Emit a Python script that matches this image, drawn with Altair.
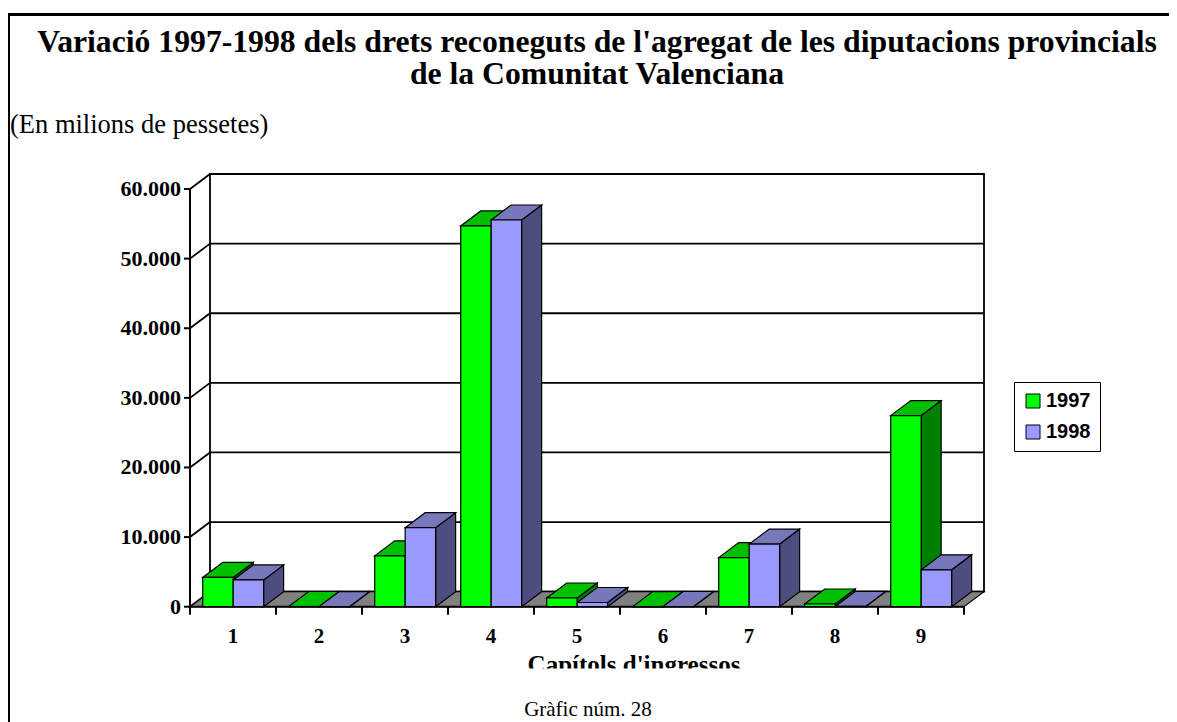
import altair as alt
import pandas as pd

# ---------------- data ----------------
categories = ["1", "2", "3", "4", "5", "6", "7", "8", "9"]
v1997 = [4200, 30, 7300, 54700, 1250, 20, 7050, 390, 27450]
v1998 = [3850, 20, 11350, 55550, 600, 30, 9000, 40, 5300]
series = ["1997", "1998"]
y_ticks = [0, 10000, 20000, 30000, 40000, 50000, 60000]
y_tick_labels = ["0", "10.000", "20.000", "30.000", "40.000", "50.000", "60.000"]

title_lines = ["Variació 1997-1998 dels drets reconeguts de l'agregat de les diputacions provincials",
               "de la Comunitat Valenciana"]
subtitle = "(En milions de pessetes)"
x_title = "Capítols d'ingressos"
caption = "Gràfic núm. 28"

# ---------------- layout ----------------
W, H = 1161, 714
CAT_PX = 86.0            # width of one category in px
AX_X = 182.0             # front y-axis position (chart px)
ZERO_Y = 598.7           # value 0 on the front plane (chart px)
PX_PER_VAL = 417.7 / 60000.0
DX = 20.0 / CAT_PX       # 3D depth offset, x (category units)
DY = 15.0 / PX_PER_VAL   # 3D depth offset, y (value units)
G0, SPLIT, P1 = 0.148, 0.502, 0.856   # bar offsets inside a category
YMAX = 60000
NCAT = len(categories)

xs = alt.Scale(domain=[-AX_X / CAT_PX, (W - AX_X) / CAT_PX], nice=False, zero=False)
ys = alt.Scale(domain=[-(H - ZERO_Y) / PX_PER_VAL, ZERO_Y / PX_PER_VAL], nice=False, zero=False)

GREEN = {"front": "#00FF00", "top": "#00C000", "side": "#008000"}
PURPLE = {"front": "#9999FF", "top": "#7777BB", "side": "#4D4D80"}
SERIF = "Liberation Serif"
SANS = "Liberation Sans"

# ---------------- derived tables ----------------
front_rows, top_rows, side_rows = [], [], []
for i, cat in enumerate(categories):
    for s, vals, a, b in (("1997", v1997, G0, SPLIT), ("1998", v1998, SPLIT, P1)):
        v = vals[i]
        x0, x1 = i + a, i + b
        fid = f"{s}-{cat}"
        front_rows.append({"year": s, "cat": cat, "x": x0, "x2": x1, "y": 0, "y2": v})
        for px, py, py2 in ((x0, v, v), (x0 + DX, v, v + DY), (x1, v, v + DY), (x1 + DX, v + DY, v + DY)):
            top_rows.append({"year": s, "id": fid, "x": px, "y": py, "y2": py2})
        for px, py, py2 in ((x1, 0, v), (x1 + DX, DY, v + DY)):
            side_rows.append({"year": s, "id": fid, "x": px, "y": py, "y2": py2})
front_df = pd.DataFrame(front_rows)
top_df = pd.DataFrame(top_rows)
side_df = pd.DataFrame(side_rows)

floor_df = pd.DataFrame({
    "id": ["floor"] * 4,
    "x": [0, DX, NCAT, NCAT + DX],
    "y": [0, 0, 0, DY],
    "y2": [0, DY, DY, DY],
})
ticks_df = pd.DataFrame({"t": y_ticks, "label": y_tick_labels})
ticks_df["tb"] = ticks_df["t"] + DY
ticks_df["xa"] = 0.0
ticks_df["xb"] = DX
ticks_df["xr"] = NCAT + DX
ticks_df["xt"] = -6.0 / CAT_PX
ticks_df["xl"] = -9.0 / CAT_PX
xcat_df = pd.DataFrame({"cat": categories, "xc": [i + 0.5 for i in range(NCAT)]})
xtick_df = pd.DataFrame({"xb": list(range(NCAT + 1))})
xtick_df["y0"] = 0.0
xtick_df["y1"] = -8.0 / PX_PER_VAL

X = lambda f: alt.X(f, type="quantitative", scale=xs, axis=None)
Y = lambda f: alt.Y(f, type="quantitative", scale=ys, axis=None)
X2 = lambda f: alt.X2(f)
Y2 = lambda f: alt.Y2(f)

one = pd.DataFrame({"a": [0]})

# back wall
wall_df = pd.DataFrame({"x": [DX], "x2": [NCAT + DX], "y": [DY], "y2": [YMAX + DY]})
back_wall = alt.Chart(wall_df).mark_rect(fill="white", stroke="black", strokeWidth=1.8).encode(
    x=X("x"), x2=X2("x2"), y=Y("y"), y2=Y2("y2"))
back_grid = alt.Chart(ticks_df).mark_rule(color="black", strokeWidth=1.8).encode(
    x=X("xb"), x2=X2("xr"), y=Y("tb"))
left_diag = alt.Chart(ticks_df).mark_rule(color="black", strokeWidth=1.8).encode(
    x=X("xa"), x2=X2("xb"), y=Y("t"), y2=Y2("tb"))
axis_df = pd.DataFrame({"x": [0.0], "y": [0.0], "y2": [YMAX]})
front_axis = alt.Chart(axis_df).mark_rule(color="black", strokeWidth=2).encode(
    x=X("x"), y=Y("y"), y2=Y2("y2"))
ytick_marks = alt.Chart(ticks_df).mark_rule(color="black", strokeWidth=2).encode(
    x=X("xt"), x2=X2("xa"), y=Y("t"))
ylabels = alt.Chart(ticks_df).mark_text(font=SERIF, fontSize=22, fontWeight="bold", align="right",
                                         baseline="middle", color="black").encode(
    x=X("xl"), y=Y("t"), text="label:N")

floor = alt.Chart(floor_df).mark_area(fill="#808080", stroke="black", strokeWidth=1.2).encode(
    x=X("x"), y=Y("y"), y2=Y2("y2"), detail="id:N")
xaxis_df = pd.DataFrame({"x": [0.0], "x2": [float(NCAT)], "y": [0.0]})
x_axis = alt.Chart(xaxis_df).mark_rule(color="black", strokeWidth=2).encode(
    x=X("x"), x2=X2("x2"), y=Y("y"))
xtick_marks = alt.Chart(xtick_df).mark_rule(color="black", strokeWidth=2).encode(
    x=X("xb"), y=Y("y0"), y2=Y2("y1"))
xlabels = alt.Chart(xcat_df).mark_text(font=SERIF, fontSize=21, fontWeight="bold", align="center",
                                        baseline="alphabetic", color="black").encode(
    x=X("xc"), y=alt.value(635), text="cat:N")


def face(df, year, col):
    return alt.Chart(df[df["year"] == year]).mark_area(
        fill=col, stroke="black", strokeWidth=1.2).encode(
        x=X("x"), y=Y("y"), y2=Y2("y2"), detail="id:N")


g_side = face(side_df, "1997", GREEN["side"])
p_side = face(side_df, "1998", PURPLE["side"])
g_top = face(top_df, "1997", GREEN["top"])
p_top = face(top_df, "1998", PURPLE["top"])
fronts = alt.Chart(front_df).mark_rect(stroke="black", strokeWidth=1.2).encode(
    x=X("x"), x2=X2("x2"), y=Y("y"), y2=Y2("y2"),
    color=alt.Color("year:N", scale=alt.Scale(domain=series, range=[GREEN["front"], PURPLE["front"]]),
                    legend=alt.Legend(title=None, orient="none", legendX=1006, legendY=374,
                                      symbolType="square", symbolSize=196, symbolStrokeColor="black",
                                      symbolStrokeWidth=1, labelFont=SANS, labelFontSize=20,
                                      labelFontWeight="bold", labelColor="black", labelOffset=3,
                                      rowPadding=11, padding=9, strokeColor="black",
                                      fillColor="white")))


def txt(s, x, y, size, weight="normal", align="center"):
    return alt.Chart(one).mark_text(font=SERIF, fontSize=size, fontWeight=weight, align=align,
                                    baseline="alphabetic", color="black").encode(
        x=alt.value(x), y=alt.value(y), text=alt.value(s))


t1 = txt(title_lines[0], 589, 44, 31.7, "bold")
t2 = txt(title_lines[1], 589, 76, 31.7, "bold")
st = txt(subtitle, 2, 125, 26.5, "normal", "left")
xt = txt(x_title, 626, 665, 25, "bold")
clip = alt.Chart(one).mark_rect(fill="white").encode(
    x=alt.value(480), x2=alt.value(780), y=alt.value(660.5), y2=alt.value(685))
cap = txt(caption, 580, 708, 21)
frame_left = alt.Chart(one).mark_rule(color="black", strokeWidth=3).encode(
    x=alt.value(0.5), y=alt.value(5), y2=alt.value(H))
frame_top = alt.Chart(one).mark_rule(color="black", strokeWidth=3).encode(
    x=alt.value(-1), x2=alt.value(W), y=alt.value(6.5))

chart = alt.layer(
    back_wall, back_grid, left_diag, front_axis, floor, x_axis, ytick_marks, xtick_marks,
    g_side, p_side, g_top, p_top, fronts,
    ylabels, xlabels, xt, clip, t1, t2, st, cap, frame_left, frame_top
).properties(
    width=W, height=H, autosize=alt.AutoSizeParams(type="none"), padding=0, background="white"
).configure_view(stroke=None)

chart.save("out.html", embed_options={"renderer": "svg", "actions": False})
